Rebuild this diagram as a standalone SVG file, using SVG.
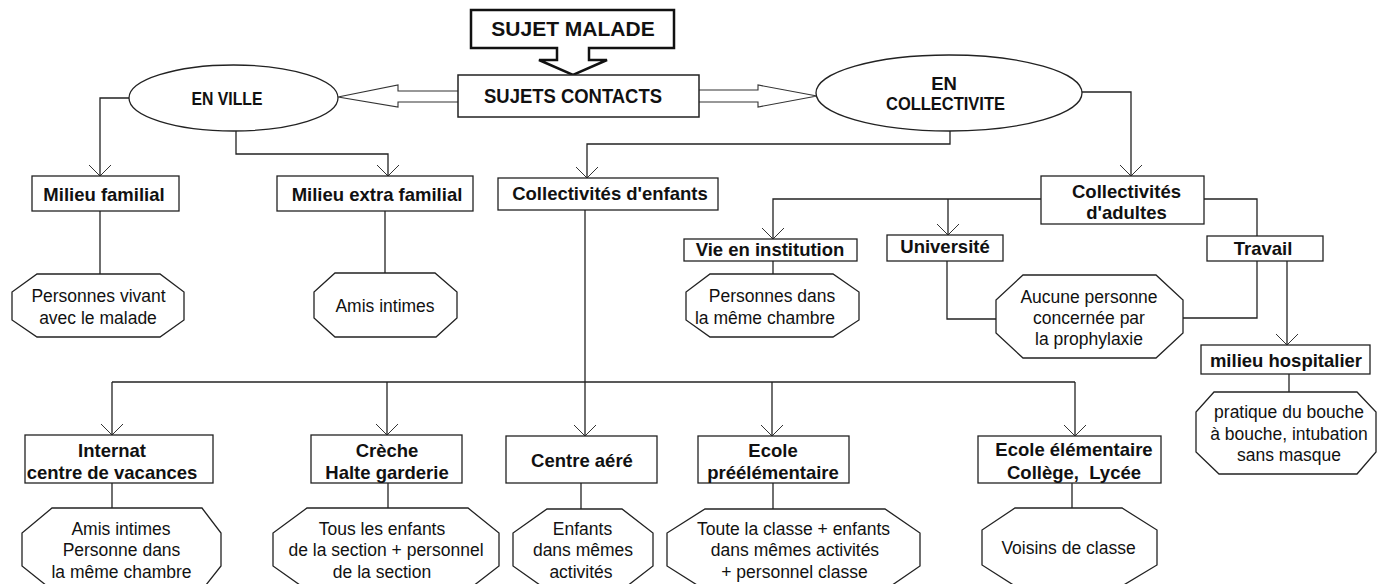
<svg xmlns="http://www.w3.org/2000/svg" width="1377" height="584" viewBox="0 0 1377 584">
<style>
  .ln{fill:none;stroke:#222;stroke-width:1.3}
  .box{fill:#fff;stroke:#222;stroke-width:1.3}
  .oct{fill:#fff;stroke:#222;stroke-width:1.3}
  .hollow{fill:#fff;stroke:#333;stroke-width:1.1}
  .b{font-family:"Liberation Sans",Arial,sans-serif;font-weight:bold;font-size:18.5px;fill:#111;text-anchor:middle}
  .r{font-family:"Liberation Sans",Arial,sans-serif;font-size:17.5px;fill:#111;text-anchor:middle}
</style>
<defs>
  <marker id="arr" markerUnits="userSpaceOnUse" viewBox="-12 -12 13 24" refX="0" refY="0" markerWidth="13" markerHeight="24" orient="auto">
    <path d="M-11,-11 L0,0 L-11,11" fill="none" stroke="#333" stroke-width="1"/>
  </marker>
</defs>

<g id="connectors">
  <path class="hollow" d="M458,91 H398 V85 L338,97 L398,107 V102 H458"/>
  <path class="hollow" d="M699,90 H758 V85 L817,96 L758,107 V102 H699"/>
  <path class="ln" d="M129,98 H100 V176" marker-end="url(#arr)"/>
  <path class="ln" d="M236,131 V154 H388 V176" marker-end="url(#arr)"/>
  <path class="ln" d="M950,131 V144 H587 V178" marker-end="url(#arr)"/>
  <path class="ln" d="M1082,92 H1131 V176" marker-end="url(#arr)"/>
  <path class="ln" d="M1041,199 H773 V239" marker-end="url(#arr)"/>
  <path class="ln" d="M948,199 V235" marker-end="url(#arr)"/>
  <path class="ln" d="M1204,199 H1257 V236"/>
  <path class="ln" d="M1257,261 V318 H1183"/>
  <path class="ln" d="M1287,261 V345" marker-end="url(#arr)"/>
  <path class="ln" d="M947,261 V319 H996"/>
  <path class="ln" d="M773,261 V274"/>
  <path class="ln" d="M100,211 V274"/>
  <path class="ln" d="M385,211 V273"/>
  <path class="ln" d="M585,210 V382"/>
  <path class="ln" d="M112,382 H1075"/>
  <path class="ln" d="M112,382 V435" marker-end="url(#arr)"/>
  <path class="ln" d="M387,382 V435" marker-end="url(#arr)"/>
  <path class="ln" d="M585,382 V436" marker-end="url(#arr)"/>
  <path class="ln" d="M772,382 V436" marker-end="url(#arr)"/>
  <path class="ln" d="M1075,382 V436" marker-end="url(#arr)"/>
  <path class="ln" d="M112,483 V508"/>
  <path class="ln" d="M388,483 V508"/>
  <path class="ln" d="M581,483 V509"/>
  <path class="ln" d="M773,483 V509"/>
  <path class="ln" d="M1072,483 V508"/>
  <path class="ln" d="M1289,374 V392"/>
</g>

<g id="sujet-malade">
  <polygon points="471,10 674,10 674,48 589,48 589,60 607,60 573,75 539,60 557,60 557,48 471,48" fill="#fff" stroke="#111" stroke-width="2.5"/>
  <text class="b" x="573" y="36" style="font-size:21px">SUJET MALADE</text>
</g>
<g id="sujets-contacts">
  <rect class="box" x="458" y="75" width="241" height="42" style="stroke-width:1.5"/>
  <text class="b" x="573" y="103" style="font-size:20px" textLength="178" lengthAdjust="spacingAndGlyphs">SUJETS CONTACTS</text>
</g>
<g id="en-ville">
  <ellipse class="box" cx="233.5" cy="98" rx="104.5" ry="33"/>
  <text class="b" x="227" y="104.5" textLength="71" lengthAdjust="spacingAndGlyphs">EN VILLE</text>
</g>
<g id="en-collectivite">
  <ellipse class="box" cx="949" cy="93" rx="133" ry="38"/>
  <text class="b" x="944" y="90">EN</text>
  <text class="b" x="945.5" y="110" textLength="119" lengthAdjust="spacingAndGlyphs">COLLECTIVITE</text>
</g>

<g id="milieu-familial">
  <rect class="box" x="32" y="176" width="147" height="35"/>
  <text class="b" x="104" y="200.5">Milieu familial</text>
</g>
<g id="milieu-extra-familial">
  <rect class="box" x="277" y="176" width="196" height="35"/>
  <text class="b" x="377" y="200.5">Milieu extra familial</text>
</g>
<g id="collectivites-enfants">
  <rect class="box" x="498" y="178" width="220" height="32"/>
  <text class="b" x="610" y="199.5">Collectivités d'enfants</text>
</g>
<g id="collectivites-adultes">
  <rect class="box" x="1041" y="176" width="163" height="48"/>
  <text class="b" x="1126.5" y="198">Collectivités</text>
  <text class="b" x="1126.5" y="219">d'adultes</text>
</g>
<g id="vie-institution">
  <rect class="box" x="684" y="239" width="173" height="22"/>
  <text class="b" x="770" y="255.5">Vie en institution</text>
</g>
<g id="universite">
  <rect class="box" x="887" y="235" width="116" height="26"/>
  <text class="b" x="945" y="253">Université</text>
</g>
<g id="travail">
  <rect class="box" x="1207" y="236" width="116" height="25"/>
  <text class="b" x="1263" y="254.5">Travail</text>
</g>
<g id="milieu-hospitalier">
  <rect class="box" x="1201" y="345" width="169" height="29"/>
  <text class="b" x="1286" y="366.5">milieu hospitalier</text>
</g>
<g id="internat">
  <rect class="box" x="25" y="435" width="188" height="48"/>
  <text class="b" x="112" y="456.5">Internat</text>
  <text class="b" x="112" y="478.5">centre de vacances</text>
</g>
<g id="creche">
  <rect class="box" x="311" y="435" width="151" height="48"/>
  <text class="b" x="387" y="456.5">Crèche</text>
  <text class="b" x="387" y="478.5">Halte garderie</text>
</g>
<g id="centre-aere">
  <rect class="box" x="506" y="436" width="151" height="47"/>
  <text class="b" x="582" y="466.5">Centre aéré</text>
</g>
<g id="ecole-preelementaire">
  <rect class="box" x="698" y="436" width="151" height="47"/>
  <text class="b" x="773" y="456.5">Ecole</text>
  <text class="b" x="773" y="479">préélémentaire</text>
</g>
<g id="ecole-elementaire">
  <rect class="box" x="978" y="436" width="183" height="47"/>
  <text class="b" x="1074" y="455.5">Ecole élémentaire</text>
  <text class="b" x="1074" y="478.5" xml:space="preserve">Collège,  Lycée</text>
</g>

<g id="oct-personnes-vivant">
  <polygon class="oct" points="37,274 160,274 184,292 184,320 160,337 37,337 12,320 12,292"/>
  <text class="r" x="98.5" y="302">Personnes vivant</text>
  <text class="r" x="98" y="324">avec le malade</text>
</g>
<g id="oct-amis-intimes">
  <polygon class="oct" points="335,273 435,273 457,292 457,318 436,337 335,337 314,318 314,292"/>
  <text class="r" x="385" y="312">Amis intimes</text>
</g>
<g id="oct-personnes-dans">
  <polygon class="oct" points="710,274 833,274 859,292 859,320 833,337 710,337 686,320 686,292"/>
  <text class="r" x="772" y="302">Personnes dans</text>
  <text class="r" x="765" y="324">la même chambre</text>
</g>
<g id="oct-aucune">
  <polygon class="oct" points="1023,275 1156,275 1183,300 1183,333 1156,358 1023,358 996,333 996,300"/>
  <text class="r" x="1089" y="303">Aucune personne</text>
  <text class="r" x="1089" y="324">concernée par</text>
  <text class="r" x="1089" y="345">la prophylaxie</text>
</g>
<g id="oct-pratique">
  <polygon class="oct" points="1214,392 1357,392 1376,412 1376,452 1357,474 1219,474 1196,452 1196,412"/>
  <text class="r" x="1289" y="418">pratique du bouche</text>
  <text class="r" x="1289" y="439.5">à bouche, intubation</text>
  <text class="r" x="1289" y="461">sans masque</text>
</g>
<g id="oct-voisins">
  <polygon class="oct" points="1015,508 1122,508 1157,530 1157,565 1122,586 1015,586 982,565 982,530"/>
  <text class="r" x="1068.5" y="554">Voisins de classe</text>
</g>
<g id="oct-internat">
  <polygon class="oct" points="52,508 202,508 221,533 221,566 202,590 52,590 22,566 22,533"/>
  <text class="r" x="121" y="535">Amis intimes</text>
  <text class="r" x="121.5" y="556">Personne dans</text>
  <text class="r" x="121.5" y="578">la même chambre</text>
</g>
<g id="oct-creche">
  <polygon class="oct" points="307,508 468,508 499,533 499,566 468,590 307,590 273,566 273,533"/>
  <text class="r" x="382" y="535">Tous les enfants</text>
  <text class="r" x="386" y="556">de la section + personnel</text>
  <text class="r" x="382" y="578">de la section</text>
</g>
<g id="oct-centre-aere">
  <polygon class="oct" points="547,509 622,509 653,533 653,566 622,590 547,590 513,566 513,533"/>
  <text class="r" x="582.5" y="535">Enfants</text>
  <text class="r" x="583" y="556">dans mêmes</text>
  <text class="r" x="581" y="578">activités</text>
</g>
<g id="oct-ecole-pre">
  <polygon class="oct" points="705,509 885,509 920,533 920,566 885,590 705,590 667,566 667,533"/>
  <text class="r" x="793.5" y="535">Toute la classe + enfants</text>
  <text class="r" x="795" y="556">dans mêmes activités</text>
  <text class="r" x="794.5" y="578">+ personnel classe</text>
</g>
</svg>
